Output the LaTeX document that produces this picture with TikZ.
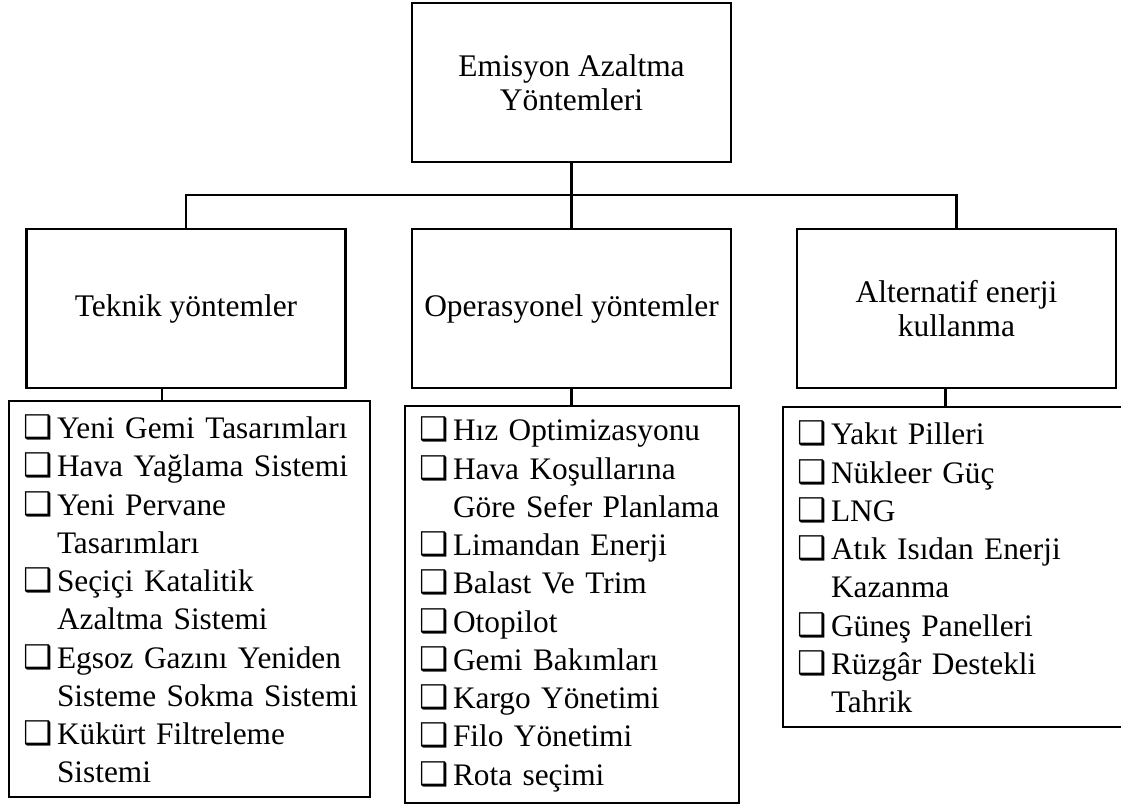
\documentclass[tikz,border=0pt]{standalone}
\usepackage{fontspec}
\setmainfont{Liberation Serif}
\newfontfamily\symfont{DejaVu Sans}
\usepackage{tikz}
\usetikzlibrary{positioning,calc}
\hyphenpenalty=10000
\newcommand\chk{{\symfont\fontsize{24.5}{28}\selectfont\char"2751}}
\newcommand\itm{\makebox[25.5pt][l]{\chk}}
\newcommand\cnt{\hspace*{25.5pt}}

\begin{document}
\begin{tikzpicture}[x=0.75pt,y=-0.75pt,line width=2.2pt,
  head/.style={draw,minimum width=239.25pt,minimum height=119.25pt,align=center,font=\fontsize{23.6}{25.5}\selectfont},
  list/.style={draw,align=left,inner xsep=10.5pt,font=\fontsize{23.5}{28.7}\selectfont}]
\useasboundingbox (0,0) rectangle (1121,805);
\node[head] (root) at (571.5,82.5) {Emisyon Azaltma\\Yöntemleri};
\node[head] (tek) at (186,308.5) {Teknik yöntemler};
\node[head] (ops) at (571.5,308.5) {Operasyonel yöntemler};
\node[head] (alt) at (956.5,308.5) {Alternatif enerji\\kullanma};
\coordinate (bus) at (571.5,195);
\draw (root.south) -- (ops.north);
\draw (tek.north) |- (bus) -| (alt.north);
\node[list,text width=249.75pt,minimum height=297pt] (teklist) at (189.5,599) {\itm Yeni Gemi Tasarımları\\
\itm Hava Yağlama Sistemi\\
\itm Yeni Pervane\\
\cnt Tasarımları\\
\itm Seçiçi Katalitik\\
\cnt Azaltma Sistemi\\
\itm Egsoz Gazını Yeniden\\
\cnt Sisteme~Sokma~Sistemi\\
\itm Kükürt Filtreleme\\
\cnt Sistemi};
\node[list,text width=229.5pt,minimum height=297.75pt] (opslist) at (572,604.5) {\itm Hız Optimizasyonu\\
\itm Hava Koşullarına\\
\cnt Göre Sefer Planlama\\
\itm Limandan Enerji\\
\itm Balast Ve Trim\\
\itm Otopilot\\
\itm Gemi Bakımları\\
\itm Kargo Yönetimi\\
\itm Filo Yönetimi\\
\itm Rota seçimi};
\node[list,text width=234.75pt,minimum height=240pt] (altlist) at (953.5,567) {\itm Yakıt Pilleri\\
\itm Nükleer Güç\\
\itm LNG\\
\itm Atık Isıdan Enerji\\
\cnt Kazanma\\
\itm Güneş Panelleri\\
\itm Rüzgâr Destekli\\
\cnt Tahrik};
\draw ([xshift=-18pt]tek.south) -- ([xshift=-18pt]tek.south |- teklist.north);
\draw (ops.south) -- (ops.south |- opslist.north);
\draw ([xshift=-8.6pt]alt.south) -- ([xshift=-8.6pt]alt.south |- altlist.north);
\end{tikzpicture}
\end{document}
